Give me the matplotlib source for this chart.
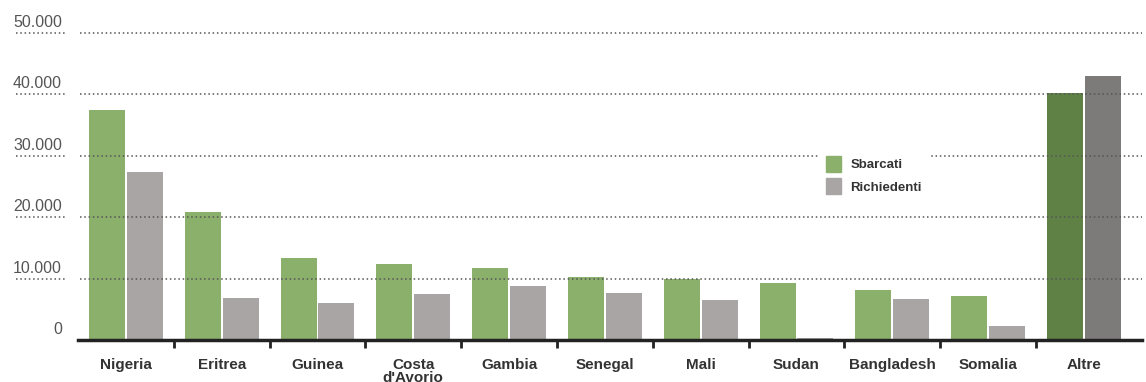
import matplotlib
matplotlib.use("Agg")
import matplotlib.pyplot as plt
from matplotlib.transforms import blended_transform_factory
from matplotlib.font_manager import fontManager

# Arrivals by sea vs. asylum seekers, by nationality
paesi = ["Nigeria", "Eritrea", "Guinea", "Costa\nd'Avorio", "Gambia", "Senegal",
         "Mali", "Sudan", "Bangladesh", "Somalia", "Altre"]
sbarcati = [37500, 20800, 13400, 12300, 11800, 10300, 9900, 9300, 8100, 7200, 40300]
richiedenti = [27400, 6800, 6000, 7500, 8800, 7700, 6500, 300, 6700, 2300, 43000]
y_ticks = [0, 10000, 20000, 30000, 40000, 50000]
y_labels = ["0", "10.000", "20.000", "30.000", "40.000", "50.000"]

W, H = 1146, 382
fig = plt.figure(figsize=(W / 100, H / 100), dpi=100)

names = {f.name for f in fontManager.ttflist}
narrow = "Liberation Sans Narrow" if "Liberation Sans Narrow" in names else "Liberation Sans"

# axes geometry in pixels
x0, x1 = 78, 1142
y_top, y_zero = 33, 340
ax = fig.add_axes([x0 / W, (H - y_zero) / H, (x1 - x0) / W, (y_zero - y_top) / H])
n = len(paesi)
ax.set_xlim(-0.5, -0.5 + (x1 - x0) / 95.8)
ax.set_ylim(0, 50000)

green, grey = "#8bb06c", "#a9a5a5"
green_dark, grey_dark = "#5f8146", "#7d7a7a"
bw = 0.376
off = 0.198
xs = list(range(n))
c_g = [green] * (n - 1) + [green_dark]
c_r = [grey] * (n - 1) + [grey_dark]
b1 = ax.bar([x - off for x in xs], sbarcati, width=bw, color=c_g, zorder=2, label="Sbarcati")
b2 = ax.bar([x + off for x in xs], richiedenti, width=bw, color=c_r, zorder=2, label="Richiedenti")

for s in ["top", "right", "left"]:
    ax.spines[s].set_visible(False)
ax.spines["bottom"].set_linewidth(2.5)
ax.spines["bottom"].set_color("#222222")
ax.spines["bottom"].set_zorder(4)

ax.set_yticks([])
ax.set_xticks(xs)
ax.set_xticklabels(paesi, fontsize=11, fontweight="bold", color="#333333",
                   fontfamily="Liberation Sans", linespacing=0.9, va="top")
ax.tick_params(axis="x", which="major", length=0, pad=13)
ax.set_xticks([i + 0.5 for i in range(n - 1)], minor=True)
ax.tick_params(axis="x", which="minor", length=6, width=2, color="#222222", direction="out")

# dotted gridlines, drawn over the bars and continuing under the tick labels
tr = blended_transform_factory(fig.transFigure, ax.transData)
for v, lab in zip(y_ticks, y_labels):
    if v > 0:
        ax.plot([16 / W, 65 / W], [v, v], transform=tr, clip_on=False,
                color="#555555", lw=1.1, ls=(0, (1, 1.8)), zorder=3)
        ax.plot([80 / W, 1142 / W], [v, v], transform=tr, clip_on=False,
                color="#555555", lw=1.1, ls=(0, (1, 1.8)), zorder=3)
    ax.annotate(lab, xy=(62 / W, v), xycoords=tr, xytext=(0, 7.5),
                textcoords="offset points", ha="right", va="center",
                fontsize=11.5, color="#555555", fontfamily="Liberation Sans",
                annotation_clip=False)

leg = ax.legend(handles=[b1[0], b2[0]], labels=["Sbarcati", "Richiedenti"],
                loc="upper left", bbox_to_anchor=(813 / W, (H - 143) / H),
                bbox_transform=fig.transFigure, frameon=True, framealpha=1,
                facecolor="white", edgecolor="none", fancybox=False,
                handlelength=1.15, handleheight=1.45, handletextpad=0.7,
                labelspacing=0.5, borderpad=0.5,
                prop={"family": narrow, "weight": "bold", "size": 9.5})
for t in leg.get_texts():
    t.set_color("#333333")
leg.set_zorder(5)
# legend patches use the light colours
leg.legend_handles[0].set_color(green)
leg.legend_handles[1].set_color(grey)

fig.savefig("out.png", dpi=100)
